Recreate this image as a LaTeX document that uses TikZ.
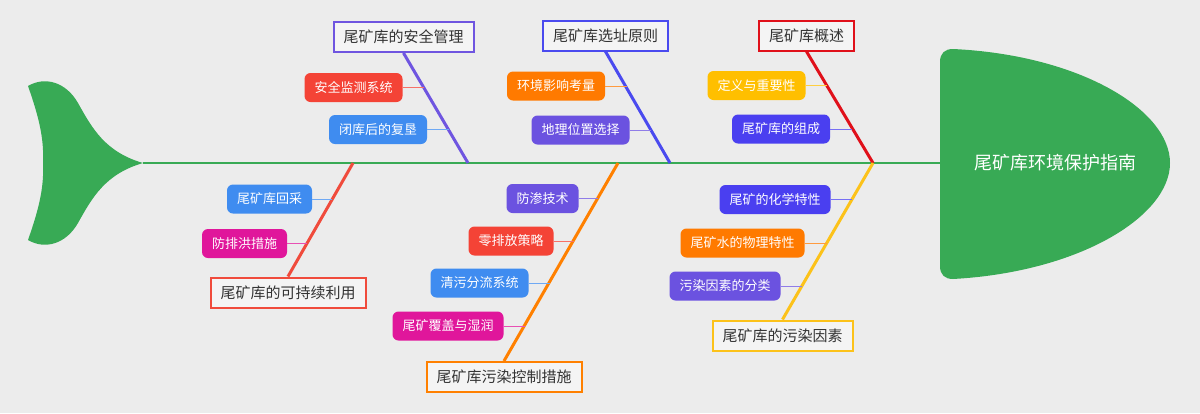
\documentclass[tikz,border=0pt]{standalone}
\usepackage{fontspec}
\setmainfont{Noto Sans CJK SC}
\definecolor{bg}{HTML}{ECECEC}
\definecolor{fishgreen}{HTML}{38AA55}
\definecolor{cRed}{HTML}{E0101A}
\definecolor{cBlue}{HTML}{4A4AEF}
\definecolor{cPurple}{HTML}{6F55E0}
\definecolor{cCoral}{HTML}{F04B3C}
\definecolor{cOrange}{HTML}{FF8000}
\definecolor{cYellow}{HTML}{FCC21A}
\definecolor{sYellow}{HTML}{FFBF00}
\definecolor{sIndigo}{HTML}{4A3FF0}
\definecolor{sOrange}{HTML}{FF7A00}
\definecolor{sViolet}{HTML}{6B52E0}
\definecolor{sRed}{HTML}{F44336}
\definecolor{sBlue}{HTML}{3F8CF0}
\definecolor{sMagenta}{HTML}{E0169B}
\definecolor{boxfill}{HTML}{F4F4F4}
\tikzset{
  branchbox/.style={draw=#1, line width=2pt, fill=boxfill, inner xsep=10pt, minimum height=30pt, font=\fontsize{15}{18}\selectfont, text=black!80},
  branchline/.style={draw=#1, line width=3pt},
  subbox/.style={fill=#1, rounded corners=6pt, inner xsep=10pt, minimum height=29pt, font=\fontsize{13}{16}\selectfont, text=white},
  conn/.style={draw=#1!75, line width=0.9pt, rounded corners=3pt},
}
\begin{document}
\begin{tikzpicture}[x=1pt,y=-1pt]
\useasboundingbox (0,0) rectangle (1200,413);
\fill[bg] (0,0) rectangle (1200,413);
% spine coordinates
\coordinate (tailtip) at (143,163);
\coordinate (headL) at (940,163);
\coordinate (j1) at (873,163);
\coordinate (j2) at (670,163);
\coordinate (j3) at (468,163);
\coordinate (j4) at (353,163);
\coordinate (j5) at (618,163);
% tail
\fill[fishgreen] (tailtip) .. controls (105,152) and (92,128) .. (78,103)
  .. controls (66,82) and (45,76) .. (28,86)
  .. controls (40,120) and (44,140) .. (43,163)
  .. controls (44,186) and (40,206) .. (28,240)
  .. controls (45,250) and (66,244) .. (78,223)
  .. controls (92,198) and (105,174) .. (tailtip) -- cycle;
% spine
\draw[fishgreen, line width=1.3pt] (tailtip) -- (headL);
% head
\fill[fishgreen] (940,62) .. controls (940,53) and (945,49) .. (953,49)
  .. controls (1080,55) and (1170,110) .. (1170,163)
  .. controls (1170,216) and (1080,272) .. (953,279)
  .. controls (945,279) and (940,275) .. (940,266) -- cycle;
\node[text=white, font=\fontsize{18}{22}\selectfont] (head) at (1055,163) {尾矿库环境保护指南};
% branch boxes
\node[branchbox=cRed] (b1) at (806.5,35.5) {尾矿库概述};
\node[branchbox=cBlue] (b2) at (605.5,35.5) {尾矿库选址原则};
\node[branchbox=cPurple] (b3) at (403.5,37) {尾矿库的安全管理};
\node[branchbox=cCoral] (b4) at (288,292.5) {尾矿库的可持续利用};
\node[branchbox=cOrange] (b5) at (504,377) {尾矿库污染控制措施};
\node[branchbox=cYellow] (b6) at (782.5,335.5) {尾矿库的污染因素};
% branch lines
\draw[branchline=cRed] (b1.south) -- (j1);
\draw[branchline=cBlue] (b2.south) -- (j2);
\draw[branchline=cPurple] (b3.south) -- (j3);
\draw[branchline=cCoral] (b4.north) -- (j4);
\draw[branchline=cOrange] (b5.north) -- (j5);
\draw[branchline=cYellow] (b6.north) -- (j1);
% sub nodes
\node[subbox=sYellow] (s11) at (756.5,85.5) {定义与重要性};
\node[subbox=sIndigo] (s12) at (781,129) {尾矿库的组成};
\node[subbox=sOrange] (s21) at (556,86) {环境影响考量};
\node[subbox=sViolet] (s22) at (580.5,130) {地理位置选择};
\node[subbox=sRed] (s31) at (353.5,87.5) {安全监测系统};
\node[subbox=sBlue] (s32) at (378,129.5) {闭库后的复垦};
\node[subbox=sBlue] (s41) at (269.5,199) {尾矿库回采};
\node[subbox=sMagenta] (s42) at (244.5,243.5) {防排洪措施};
\node[subbox=sViolet] (s51) at (542.5,198.5) {防渗技术};
\node[subbox=sRed] (s52) at (511,241) {零排放策略};
\node[subbox=sBlue] (s53) at (479.5,283) {清污分流系统};
\node[subbox=sMagenta] (s54) at (448,326) {尾矿覆盖与湿润};
\node[subbox=sIndigo] (s61) at (775,199.5) {尾矿的化学特性};
\node[subbox=sOrange] (s62) at (742.5,243) {尾矿水的物理特性};
\node[subbox=sViolet] (s63) at (725,286) {污染因素的分类};
% connector endpoints on branch lines
\coordinate (c11) at (827,85.5);
\coordinate (c12) at (852,129);
\coordinate (c21) at (627,86);
\coordinate (c22) at (651,130);
\coordinate (c31) at (424,87.5);
\coordinate (c32) at (449,129.5);
\coordinate (c41) at (332,199);
\coordinate (c42) at (307,243.5);
\coordinate (c51) at (598,198.5);
\coordinate (c52) at (574,241);
\coordinate (c53) at (550,283);
\coordinate (c54) at (525,326);
\coordinate (c61) at (852,199.5);
\coordinate (c62) at (827,243);
\coordinate (c63) at (802,286);
\draw[conn=sYellow] (s11.east) -- (c11);
\draw[conn=sIndigo] (s12.east) -- (c12);
\draw[conn=sOrange] (s21.east) -- (c21);
\draw[conn=sViolet] (s22.east) -- (c22);
\draw[conn=sRed] (s31.east) -- (c31);
\draw[conn=sBlue] (s32.east) -- (c32);
\draw[conn=sBlue] (s41.east) -- (c41);
\draw[conn=sMagenta] (s42.east) -- (c42);
\draw[conn=sViolet] (s51.east) -- (c51);
\draw[conn=sRed] (s52.east) -- (c52);
\draw[conn=sBlue] (s53.east) -- (c53);
\draw[conn=sMagenta] (s54.east) -- (c54);
\draw[conn=sIndigo] (s61.east) -- (c61);
\draw[conn=sOrange] (s62.east) -- (c62);
\draw[conn=sViolet] (s63.east) -- (c63);
\end{tikzpicture}
\end{document}
